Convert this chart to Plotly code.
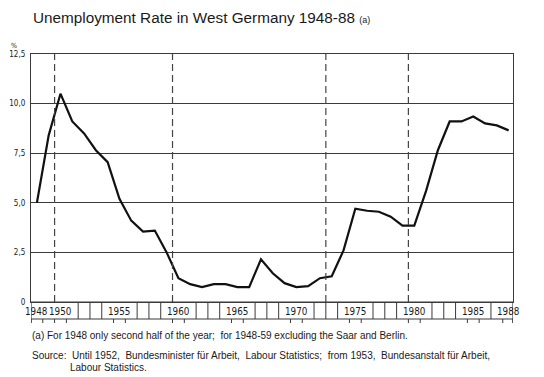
import plotly.graph_objects as go

# ---- data ----
years = list(range(1948, 1989))
rate = [5.0, 8.4, 10.5, 9.1, 8.5, 7.65, 7.05, 5.2, 4.1, 3.55, 3.6, 2.5,
        1.2, 0.9, 0.75, 0.9, 0.9, 0.75, 0.75, 2.15, 1.45, 0.95, 0.75, 0.8,
        1.2, 1.3, 2.6, 4.7, 4.6, 4.55, 4.3, 3.85, 3.85, 5.6, 7.65, 9.1,
        9.1, 9.35, 9.0, 8.9, 8.65]
label_years = [1948, 1950, 1955, 1960, 1965, 1970, 1975, 1980, 1985, 1988]
dashed_years = [1950, 1960, 1973, 1980]
y_tick_vals = [0, 2.5, 5.0, 7.5, 10.0, 12.5]
y_tick_text = ["0", "2,5", "5,0", "7,5", "10,0", "12,5"]

title = "Unemployment Rate in West Germany 1948-88"
note_a = "(a) For 1948 only second half of the year;\u00a0 for 1948-59 excluding the Saar and Berlin."
source1 = ("Source:\u00a0 Until 1952,\u00a0 Bundesminister für Arbeit,\u00a0 Labour Statistics;\u00a0 "
           "from 1953,\u00a0 Bundesanstalt für Arbeit,")
source2 = "Labour Statistics."

FONT = "Liberation Sans Narrow, DejaVu Sans Condensed, Liberation Sans, sans-serif"
TFONT = "Liberation Sans, sans-serif"
INK = "#1a1a1a"
GRID = "#3a3a3a"

# page has an 8px body margin; the plot area should sit at window x 31..513, y 54..302
OFF = 8
W, H = 544 - OFF, 377 - OFF
PL, PR, PT, PB = 31, 513, 54, 302


def px(xw):
    return (xw - PL) / (PR - PL)


def py(yw):
    return (PB - yw) / (PB - PT)


x_lo, x_hi = 1947.5, 1988.37
strip = 17 / (PB - PT)
tick_below = 21 / (PB - PT)

fig = go.Figure()
fig.add_trace(go.Scatter(x=years, y=rate, mode="lines",
                         line=dict(color="#111111", width=2.2),
                         hoverinfo="skip", showlegend=False))

shapes = []
for yr in dashed_years:
    shapes.append(dict(type="line", xref="x", yref="paper", x0=yr - 0.5, x1=yr - 0.5,
                       y0=0, y1=1, line=dict(color="#444444", width=1.2, dash="7px,4px")))
shapes.append(dict(type="rect", xref="x", yref="paper", x0=x_lo, x1=x_hi,
                   y0=-strip, y1=0, line=dict(color=GRID, width=1.2)))
for yr in years[:-1]:
    b = yr + 0.5
    near_label = any(abs(b - ly) < 0.6 for ly in label_years)
    if near_label:
        shapes.append(dict(type="line", xref="x", yref="paper", x0=b, x1=b,
                           y0=-tick_below, y1=-strip, line=dict(color=GRID, width=1)))
    else:
        shapes.append(dict(type="line", xref="x", yref="paper", x0=b, x1=b,
                           y0=-strip, y1=0, line=dict(color=GRID, width=1)))
for edge in (x_lo + 0.03, x_hi - 0.03):
    shapes.append(dict(type="line", xref="x", yref="paper", x0=edge, x1=edge,
                       y0=-tick_below, y1=-strip, line=dict(color=GRID, width=1)))

annotations = []
for ly in label_years:
    annotations.append(dict(x=ly, y=py(311.5), xref="x", yref="paper", text=str(ly),
                            showarrow=False, xanchor="center", yanchor="middle",
                            font=dict(family=FONT, size=9.8, color=INK)))
annotations.append(dict(x=px(31), y=py(17), xref="paper", yref="paper",
                        text=title + " <span style='font-size:9px'>(a)</span>",
                        showarrow=False, xanchor="left", yanchor="middle",
                        font=dict(family=TFONT, size=15.3, color=INK)))
annotations.append(dict(x=px(19), y=py(45.5), xref="paper", yref="paper", text="%",
                        showarrow=False, xanchor="right", yanchor="middle",
                        font=dict(family=FONT, size=7, color=INK)))
annotations.append(dict(x=px(30), y=py(335.6), xref="paper", yref="paper", text=note_a,
                        showarrow=False, xanchor="left", yanchor="middle",
                        font=dict(family=TFONT, size=10, color=INK)))
annotations.append(dict(x=px(30), y=py(355.8), xref="paper", yref="paper", text=source1,
                        showarrow=False, xanchor="left", yanchor="middle",
                        font=dict(family=TFONT, size=10, color=INK)))
annotations.append(dict(x=px(68), y=py(367.5), xref="paper", yref="paper", text=source2,
                        showarrow=False, xanchor="left", yanchor="middle",
                        font=dict(family=TFONT, size=10, color=INK)))

fig.update_layout(
    width=W, height=H,
    margin=dict(l=PL - OFF, r=544 - PR, t=PT - OFF, b=377 - PB, autoexpand=False),
    paper_bgcolor="white", plot_bgcolor="white",
    shapes=shapes, annotations=annotations,
    xaxis=dict(range=[x_lo, x_hi], showgrid=False, zeroline=False, automargin=False,
               showticklabels=False, ticks="", showline=True, linecolor=GRID,
               linewidth=1.2, mirror=True),
    yaxis=dict(range=[0, 12.5], tickvals=y_tick_vals, ticktext=y_tick_text,
               showgrid=True, gridcolor=GRID, gridwidth=1, zeroline=False,
               automargin=False,
               showline=True, linecolor=GRID, linewidth=1.2, mirror=True,
               ticks="", ticklabelstandoff=3,
               tickfont=dict(family=FONT, size=8, color=INK)),
    showlegend=False,
)

fig.write_html("out.html")
